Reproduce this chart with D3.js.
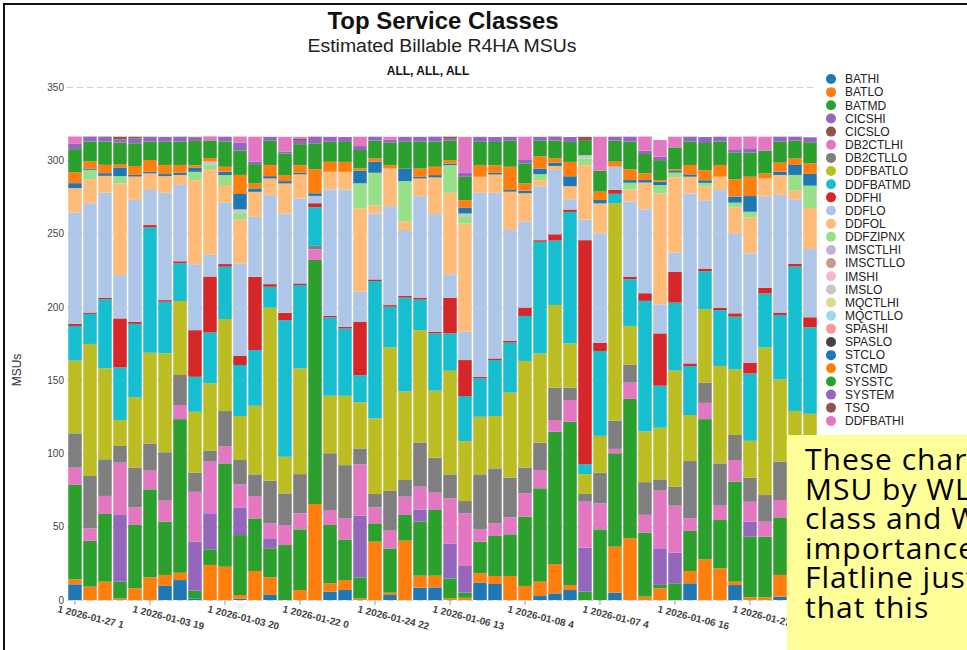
<!DOCTYPE html>
<html><head><meta charset="utf-8">
<script src="https://cdn.jsdelivr.net/npm/d3@7"></script>
<style>body{margin:0;background:#fff;overflow:hidden} svg{display:block}</style>
</head><body>
<svg id="c" width="967" height="650"></svg>
<script>
const seriesNames = ["BATHI","BATLO","BATMD","CICSHI","CICSLO","DB2CTLHI","DB2CTLLO","DDFBATLO","DDFBATMD","DDFHI","DDFLO","DDFOL","DDFZIPNX","IMSCTLHI","IMSCTLLO","IMSHI","IMSLO","MQCTLHI","MQCTLLO","SPASHI","SPASLO","STCLO","STCMD","SYSSTC","SYSTEM","TSO","DDFBATHI"];
const seriesColors = ["#1f77b4","#ff7f0e","#2ca02c","#9467bd","#8c564b","#e377c2","#7f7f7f","#bcbd22","#17becf","#d62728","#aec7e8","#ffbb78","#98df8a","#c5b0d5","#c49c94","#f7b6d2","#c7c7c7","#dbdb8d","#9edae5","#ff9896","#444444","#1f77b4","#ff7f0e","#2ca02c","#9467bd","#8c564b","#e377c2"];
const tickLabels = ["1 2026-01-27 1","1 2026-01-03 19","1 2026-01-03 20","1 2026-01-22 0","1 2026-01-24 22","1 2026-01-06 13","1 2026-01-08 4","1 2026-01-07 4","1 2026-01-06 16","1 2026-01-27 9"];
const yTicks = [0,50,100,150,200,250,300,350];

const BATHI = [10.7,0,0,0,0,0,9.6,13.6,1.1,0, 0,0.9,0,3.4,0,0,0,5.7,6.8,0, 0,3.4,0,8.4,8.6,0,0,11.8,10.9,0, 0,2.7,4.5,6.8,0,0,5.0,0,0,0, 0,11.4,0,0,10.2,0,0,2.3,3,2];
const BATLO = [3.4,9.1,12.5,1.1,8.0,15.5,7.5,5.0,0,23.9, 22.7,2.5,19.8,12.1,0,6.8,65.5,5.7,6.8,1.1, 39.8,1.6,40.5,8.2,8.0,1.1,1.5,6.4,5.5,16.4, 9.6,9.8,20.0,3.4,0,0,31.4,42.1,2.3,8.0, 0,8.4,27.7,21.6,2.3,1.8,1.8,14.8,10,18];
const BATMD = [64.4,31.2,46.2,11.4,43.2,60.0,36.4,104.8,5.2,10.7, 70.5,40.9,35.9,19.8,37.5,41.4,166.5,39.8,27.7,14.3, 12.5,30.2,17.5,36.8,44.8,13.6,3.5,21.6,27.3,28.4, 47.3,63.7,90.3,111.4,5.7,48.2,63.7,95.1,43.7,2.3, 11.4,27.3,95.7,33.0,68.2,41.4,41.4,39.3,52,50];
const CICSHI = [0,0,0,45.5,0,0,0,0,33.4,24.6, 0,18.9,0,6.8,0,0,0,0,0,42.1, 0,0,0,8.4,0,23.9,18.2,0,0,0, 0,0,0,0,30.0,0,0,0,0,25.0, 20.9,0,0,0,0,10.2,0,0,0,0];
const CICSLO = [0,0,0,0,0,0,0,0,0,0, 0,0,0,0,0,0,0,0,0,0, 0,0,0,0,0,0,0,0,0,0, 0,0,0,0,0,0,0,0,0,0, 0,0,0,0,0,0,0,0,0,0];
const DB2CTLHI = [11.8,8.6,12.3,35.7,12.1,12.7,14.3,9.6,34.1,35.2, 11.8,15.7,15.2,10.2,13.6,10.9,7.3,10.2,14.3,35.0, 10.9,12.1,12.5,15.5,11.8,30.7,35.9,8.4,8.6,11.6, 15.9,12.5,8.0,14.8,31.4,17.7,3.0,11.1,12.1,39.3, 32.1,8.6,11.1,10.2,14.8,13.6,10.2,11.8,8,10];
const DB2CTLLO = [23.4,35.7,25.0,11.4,27.1,18.6,33.0,20.5,13.2,7.3, 23.9,16.6,14.8,29.1,21.6,26.8,2.3,38.7,36.4,10.9, 9.1,27.1,11.4,30.2,23.9,16.4,8.4,37.5,37.5,27.1, 17.5,18.6,22.1,8.4,5.2,20.9,19.3,12.1,22.3,7.7, 13.0,39.1,13.9,28.4,17.1,16.4,18.2,26.2,22,20];
const DDFBATLO = [49.6,90.1,62.1,17.7,48.0,61.9,67.5,50.5,41.4,46.2, 62.8,30.0,46.8,118.0,25.0,72.1,0,39.3,47.3,31.4, 51.6,98.0,60.3,76.6,45.7,70.7,40.9,39.3,35.7,58.0, 72.8,60.9,56.4,30.2,13.6,25.2,148.3,26.6,34.6,35.2, 79.1,31.4,50.0,66.4,44.8,25.2,100.7,56.2,34,27];
const DDFBATMD = [23.7,20.5,47.1,35.9,50.0,85.5,35.2,25.7,23.9,34.6, 35.7,34.8,38.0,14.3,93.2,56.9,26.4,53.4,45.9,18.6, 93.7,27.7,64.1,20.9,39.1,25.5,30.7,26.2,38.2,34.1, 30.7,76.2,43.9,89.8,6.8,57.8,6.4,31.8,89.1,28.7, 46.4,33.4,25.9,38.2,35.9,45.9,36.8,43.9,98.5,59.1];
const DDFHI = [1.4,0.9,0.9,33.4,1.4,1.6,1.1,1.4,31.8,38.2, 1.8,6.4,50.0,1.8,5.0,1.1,2.7,1.1,1.1,36.4, 1.1,1.1,1.1,1.1,1.1,24.3,24.6,1.1,1.1,1.1, 5.7,1.1,4.3,1.6,152.8,5.7,2.7,1.8,5.2,35.7, 21.1,1.8,1.8,1.6,2.3,7.3,3.9,1.6,1.8,6.8];
const DDFLO = [76.0,74.6,71.9,29.6,83.2,23.9,73.2,52.1,45.0,14.8, 41.8,63.0,40.9,60.7,67.8,58.0,5.0,86.2,93.7,20.5, 45.0,67.5,45.0,69.4,80.3,16.1,19.3,125.5,113.0,75.7, 58.7,36.8,43.9,7.0,14.1,74.6,15.9,51.2,57.3,19.8, 13.0,116.0,46.6,80.3,54.6,74.6,62.1,80.3,44.1,46.6];
const DDFOL = [16.6,16.4,11.4,62.5,15.9,11.4,11.4,6.8,57.3,58.0, 12.1,30.0,17.1,11.4,20.5,16.4,0,12.1,12.1,56.9, 5.7,25.7,5.7,12.1,25.0,55.5,73.9,10.9,12.5,26.2, 19.3,4.1,2.7,8.9,37.1,20.5,0,8.4,18.2,75.7, 51.4,11.4,9.6,9.1,17.7,24.6,12.5,13.6,5.9,28.0];
const DDFZIPNX = [0,6.4,0,5.0,0,0,0,0,5.7,3.4, 6.8,4.5,0,0,0,0,0,0,0,17.1, 22.1,0,27.7,0,0,18.9,5.0,0,0,0, 0,4.1,0,0,4.5,0,0,4.5,0,5.7, 3.2,0,2.3,0,3.2,3.9,0,0,10.7,15.2];
const IMSCTLHI = [0,0,0,0,0,0,0,0,0,0, 0,0,0,0,0,0,0,0,0,0, 0,0,0,0,0,0,0,0,0,0, 0,0,0,0,0,0,0,0,0,0, 0,0,0,0,0,0,0,0,0,0];
const IMSCTLLO = [0,0,0,0,0,0,0,0,0,0, 0,0,0,0,0,0,0,0,0,0, 0,0,0,0,0,0,0,0,0,0, 0,0,0,0,0,0,0,0,0,0, 0,0,0,0,0,0,0,0,0,0];
const IMSHI = [0,0,0,0,0,0,0,0,0,0, 0,0,0,0,0,0,0,0,0,0, 0,0,0,0,0,0,0,0,0,0, 0,0,0,0,0,0,0,0,0,0, 0,0,0,0,0,0,0,0,0,0];
const IMSLO = [0,0,0,0,0,0,0,0,0,2.3, 0,2.3,0,0,0,0,0,0,0,0, 0,0,0,0,0,0,1.8,0,0,0, 0,0,0,0,2.3,0,0,0,0,0, 0,0,0,0,0,0,0,0,0,0];
const MQCTLHI = [0,0,0,0,0,0,0,0,0,0, 0,0,0,0,0,0,0,0,0,0, 0,0,0,0,0,0,0,0,0,0, 0,0,0,0,0,0,0,0,0,0, 0,0,0,0,0,0,0,0,0,0];
const MQCTLLO = [0,0,0,0,0,0,0,0,0,0, 0,0,0,0,0,0,0,0,0,0, 0,0,0,0,0,0,0,0,0,0, 0,0,0,0,0,0,0,0,0,0, 0,0,0,0,0,0,0,0,0,0];
const SPASHI = [0,0,0,0,0,0,0,0,0,0, 0,0,0,0,0,0,0,0,0,0, 0,0,0,0,0,0,0,0,0,0, 0,0,0,0,0,0,0,0,0,0, 0,0,0,0,0,0,0,0,0,0];
const SPASLO = [0,0,0,0,0,0,0,0,0,0, 0,0,0,0,0,0,0,0,0,0, 0,0,0,0,0,0,0,0,0,0, 0,0,0,0,0,0,0,0,0,0, 0,0,0,0,0,0,0,0,0,0];
const STCLO = [3.4,0.9,1.8,5.9,1.1,1.1,1.4,1.6,2.7,0, 2.3,10.5,2.3,1.6,1.6,1.1,1.8,0,0,8.6, 7.5,0,8.6,1.1,1.6,1.1,4.1,0,1.1,1.1, 1.8,3.9,2.3,6.8,0,2.3,0,1.8,1.8,2.3, 1.1,1.6,1.8,0,4.1,10.7,0,2.3,6.8,8.0];
const STCMD = [7.5,4.8,5.7,2.3,6.1,8.0,6.1,5.2,1.8,2.3, 3.4,13.0,3.4,7.5,4.1,5.2,16.4,6.8,6.8,1.6, 2.3,2.3,0,5.7,5.7,2.3,5.0,8.0,5.2,15.9, 5.0,8.4,3.0,9.8,0,5.7,3.4,7.3,4.5,1.1, 1.1,6.4,6.8,8.0,11.8,13.2,3.4,6.1,4.5,7.3];
const SYSSTC = [15.7,13.6,15.9,14.6,15.5,12.5,15.9,15.9,16.6,12.1, 17.1,16.6,13.2,16.6,14.8,14.3,17.7,13.6,13.6,12.5, 12.1,15.2,18.2,18.2,17.1,13.2,15.9,15.9,15.9,17.7, 13.6,10.5,12.1,13.6,9.8,14.3,14.3,18.9,13.2,13.6, 15.0,15.9,18.6,15.9,18.4,16.4,15.5,14.3,12.1,14.3];
const SYSTEM = [3.6,3.4,3.4,2.3,3.4,3.4,3.4,3.4,2.3,0, 3.4,5.5,1.6,2.7,1.1,2.3,4.5,3.4,3.4,2.7, 2.7,2.3,3.4,3.4,3.4,1.4,2.7,3.4,3.4,2.7, 2.3,2.7,2.7,3.4,0,0,2.7,3.4,2.3,2.3, 0,3.4,4.1,3.4,1.6,3.0,0,3.4,2.7,3.4];
const TSO = [0,0,0,1.8,1.1,0,0,0,0.5,0, 0,0,0,0,0,1.6,0,0,0,0, 0,0,0,0,0,1.4,0,0,0,0, 0,0,0,0,2.7,0,0,0,0,0, 0,0,0,0,0,0,0,0,0,0];
const DDFBATHI = [5.0,0,0,0,0,0,0,0,0,2.7, 0,4.1,17.1,0,10.2,1.1,0,0,0,6.4, 0,1.8,0,0,0,0,24.6,0,0,0, 15.9,0,0,0,0,23.2,0,0,9.6,11.4, 7.3,0,0,0,9.1,8.0,9.6,0,0,0];

const noteLines = ["These charts show","MSU by WLM service","class and WLM","importance.","Flatline just shows","that this"];

const seriesData = {BATHI,BATLO,BATMD,CICSHI,CICSLO,DB2CTLHI,DB2CTLLO,DDFBATLO,DDFBATMD,DDFHI,DDFLO,DDFOL,DDFZIPNX,IMSCTLHI,IMSCTLLO,IMSHI,IMSLO,MQCTLHI,MQCTLLO,SPASHI,SPASLO,STCLO,STCMD,SYSSTC,SYSTEM,TSO,DDFBATHI};
const nBars = BATHI.length;
const rows = d3.range(nBars).map(i => {
  const r = {idx: i};
  seriesNames.forEach(k => r[k] = seriesData[k][i]);
  return r;
});

const FONT = "'Liberation Sans', Arial, sans-serif";
const svg = d3.select("#c").style("font-family", FONT);

const x = d3.scaleBand().domain(d3.range(nBars)).range([67.5, 817.5]).paddingInner(0.1).paddingOuter(0.05);
const y = d3.scaleLinear().domain([0, 350]).range([600, 87]);
const color = d3.scaleOrdinal().domain(seriesNames).range(seriesColors);

// grid + y axis
const yAxis = svg.append("g").attr("transform", "translate(67,0)")
  .call(d3.axisLeft(y).tickValues(yTicks).tickSize(-749).tickPadding(3));
yAxis.select(".domain").remove();
yAxis.selectAll(".tick line").attr("stroke", "#cfcfcf").attr("stroke-dasharray", "6,4");
yAxis.selectAll(".tick text").attr("fill", "#444").style("font-size", "10px").style("font-family", FONT);

// stacked bars
const stacked = d3.stack().keys(seriesNames)(rows);
svg.append("g").selectAll("g").data(stacked).join("g")
  .attr("fill", d => color(d.key))
  .selectAll("rect").data(d => d).join("rect")
  .attr("x", d => x(d.data.idx))
  .attr("width", x.bandwidth())
  .attr("y", d => y(d[1]))
  .attr("height", d => Math.max(0, y(d[0]) - y(d[1])));

// x axis
const xAxis = svg.append("g").attr("transform", "translate(0,600)")
  .call(d3.axisBottom(x).tickValues(d3.range(0, nBars, 5)).tickFormat(i => tickLabels[i / 5]).tickSize(5));
xAxis.select(".domain").remove();
xAxis.selectAll(".tick line").attr("stroke", "#999");
xAxis.selectAll(".tick text")
  .attr("x", 0).attr("y", 0).attr("dy", 0)
  .attr("text-anchor", "start")
  .attr("transform", "translate(-18,12) rotate(14)")
  .attr("fill", "#444").style("font-size", "10px").style("font-weight", "bold").style("font-family", FONT);

// y title
svg.append("text").attr("transform", "translate(21,370) rotate(-90)")
  .attr("text-anchor", "middle").attr("fill", "#333").style("font-size", "12px").text("MSUs");

// titles
svg.append("text").attr("x", 443).attr("y", 29).attr("text-anchor", "middle")
  .attr("textLength", 231).attr("lengthAdjust", "spacingAndGlyphs")
  .style("font-size", "23.5px").style("font-weight", "bold").attr("fill", "#111").text("Top Service Classes");
svg.append("text").attr("x", 442).attr("y", 52).attr("text-anchor", "middle")
  .attr("textLength", 269).attr("lengthAdjust", "spacingAndGlyphs")
  .style("font-size", "18px").attr("fill", "#222").text("Estimated Billable R4HA MSUs");
svg.append("text").attr("x", 428).attr("y", 75).attr("text-anchor", "middle")
  .style("font-size", "12px").style("font-weight", "bold").attr("fill", "#111").text("ALL, ALL, ALL");

// legend
const leg = svg.append("g").selectAll("g").data(seriesNames).join("g")
  .attr("transform", (d, i) => `translate(831,${79 + 13.15 * i})`);
leg.append("circle").attr("r", 5).attr("fill", d => color(d));
leg.append("text").attr("x", 14).attr("dy", "0.36em").attr("fill", "#222")
  .style("font-size", "12px").text(d => d);

// note box
svg.append("rect").attr("x", 787).attr("y", 435).attr("width", 200).attr("height", 230).attr("fill", "#ffff99");
svg.append("g").selectAll("text").data(noteLines).join("text")
  .attr("x", 805).attr("y", (d, i) => 470 + 29.6 * i)
  .style("font-family", "'Open Sans', 'Noto Sans', sans-serif").style("font-size", "30px")
  .style("letter-spacing", "1px")
  .attr("fill", "#000").text(d => d);

// frame
svg.append("rect").attr("x", 4).attr("y", 4).attr("width", 1200).attr("height", 1200)
  .attr("fill", "none").attr("stroke", "#111").attr("stroke-width", 2);
</script>
</body></html>
